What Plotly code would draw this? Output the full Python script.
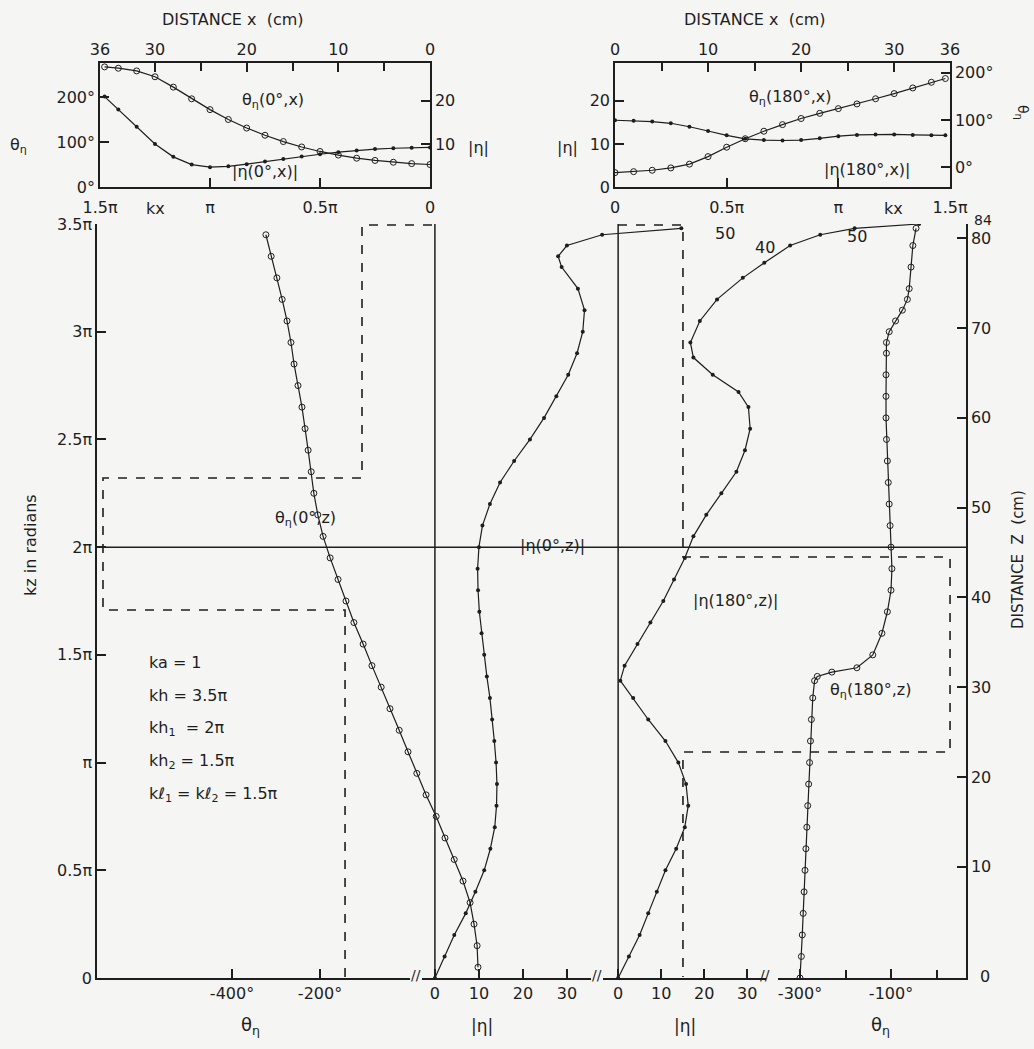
import plotly.graph_objects as go

W, H = 1034, 1049

# ---------------- values ----------------
# upper left inset: phi = 0 deg, along the arm (x in cm)
x_cm_0 = [35.5, 34, 32, 30, 28, 26, 24, 22, 20, 18, 16, 14, 12, 10, 8, 6, 4, 2, 0]
theta_0_x = [267, 264, 258, 245, 222, 196, 172, 150, 131, 115, 101, 89, 79, 71, 64, 59, 55, 52, 50]
eta_0_x = [21, 18, 14, 10, 7, 5.2, 4.6, 4.8, 5.3, 5.9, 6.5, 7.1, 7.6, 8.1, 8.5, 8.8, 9.0, 9.1, 9.2]

# upper right inset: phi = 180 deg
x_cm_180 = [0, 2, 4, 6, 8, 10, 12, 14, 16, 18, 20, 22, 24, 26, 28, 30, 32, 34, 35.5]
eta_180_x = [15.5, 15.4, 15.2, 14.8, 14.0, 13.0, 12.0, 11.2, 10.9, 10.8, 10.9, 11.3, 11.8,
             12.1, 12.2, 12.2, 12.1, 12.0, 12.0]
theta_180_x = [-12, -10, -7, -2, 6, 22, 42, 60, 76, 90, 103, 114, 124, 134, 145, 156, 168, 180, 188]

# main panel, kz in units of pi
kz_theta_0 = [0.05, 0.15, 0.25, 0.35, 0.45, 0.55, 0.65, 0.75, 0.85, 0.95, 1.05, 1.15, 1.25,
              1.35, 1.45, 1.55, 1.65, 1.75, 1.85, 1.95, 2.05, 2.15, 2.25, 2.35, 2.45, 2.55,
              2.65, 2.75, 2.85, 2.95, 3.05, 3.15, 3.25, 3.35, 3.45]
theta_0_z = [159, 157, 150, 141, 125, 105, 84, 64, 41, 20, 0, -20, -41, -61, -82, -102, -123,
             -141, -159, -177, -193, -205, -214, -220, -227, -234, -241, -250, -259, -266,
             -275, -286, -298, -311, -323]

kz_eta_0 = [0, 0.1, 0.2, 0.3, 0.4, 0.5, 0.6, 0.7, 0.8, 0.9, 1.0, 1.1, 1.2, 1.3, 1.4, 1.5, 1.6,
            1.7, 1.8, 1.9, 2.0, 2.1, 2.2, 2.3, 2.4, 2.5, 2.6, 2.7, 2.8, 2.9, 3.0, 3.1, 3.2,
            3.3, 3.35, 3.4, 3.45, 3.48]
eta_0_z = [0, 2.2, 4.4, 7, 9.2, 11.2, 12.6, 13.6, 14.0, 14.1, 13.9, 13.5, 13.0, 12.5, 11.8,
           11.2, 10.6, 10.1, 9.8, 9.7, 10.0, 10.8, 12.5, 14.8, 18, 21.6, 24.8, 27.6, 30.3,
           32.3, 33.6, 34, 32.5, 28.8, 28, 30, 38, 56]

kz_eta_180 = [0, 0.1, 0.2, 0.3, 0.4, 0.5, 0.6, 0.7, 0.8, 0.9, 1.0, 1.1, 1.2, 1.3, 1.38, 1.45,
              1.55, 1.65, 1.75, 1.85, 1.95, 2.05, 2.15, 2.25, 2.35, 2.45, 2.55, 2.65, 2.72,
              2.8, 2.88, 2.95, 3.05, 3.15, 3.25, 3.32, 3.4, 3.45, 3.48, 3.5]
eta_180_z = [0, 2.5, 5, 7, 9, 11, 13.5, 15.5, 16.3, 15.8, 14, 11, 7, 3.5, 0.5, 1.5, 4.5, 7.5,
             10.5, 13, 15.5, 17.5, 20.5, 24, 27.5, 29.5, 30.7, 30.3, 28, 22, 17.5, 16.8, 19,
             23, 29, 34, 40, 47, 55, 70]

kz_theta_180 = [0, 0.1, 0.2, 0.3, 0.4, 0.5, 0.6, 0.7, 0.8, 0.9, 1.0, 1.1, 1.2, 1.3, 1.38, 1.4,
                1.42, 1.44, 1.5, 1.6, 1.7, 1.8, 1.9, 2.0, 2.1, 2.2, 2.3, 2.4, 2.5, 2.6, 2.7,
                2.8, 2.9, 2.95, 3.0, 3.05, 3.1, 3.15, 3.2, 3.3, 3.4, 3.48]
theta_180_z = [-300, -297, -295, -293, -291, -289, -287, -285, -283, -281, -279, -277, -275,
               -272, -268, -262, -230, -175, -140, -120, -108, -100, -98, -100, -102, -104,
               -106, -108, -110, -111, -111, -111, -110, -110, -104, -90, -75, -64, -60, -56,
               -52, -45]

kz_ticks = [0, 0.5, 1, 1.5, 2, 2.5, 3, 3.5]
kz_labels = ["0", "0.5π", "π", "1.5π", "2π", "2.5π", "3π", "3.5π"]
z_ticks = [10, 20, 30, 40, 50, 60, 70, 80]
kx_ticks = [0, 0.5, 1, 1.5]
kx_labels = ["0", "0.5π", "π", "1.5π"]
cm_ticks = [0, 10, 20, 30, 36]
cm_minor = [5, 15, 25]

INK = "#1e1e1e"
BG = "#f5f5f3"
FONT = "DejaVu Sans"


def px(x):
    return x / W


def py(y):
    return 1 - y / H


fig = go.Figure()

circ = dict(symbol="circle-open", size=6, color=INK, line=dict(width=1, color=INK))
dot = dict(symbol="circle", size=4, color=INK)
ln = dict(color=INK, width=1.2)

# main panel curves
fig.add_trace(go.Scatter(x=theta_0_z, y=kz_theta_0, xaxis="x", yaxis="y",
                         mode="lines+markers", marker=circ, line=ln))
fig.add_trace(go.Scatter(x=eta_0_z, y=kz_eta_0, xaxis="x2", yaxis="y",
                         mode="lines+markers", marker=dot, line=ln))
fig.add_trace(go.Scatter(x=eta_180_z, y=kz_eta_180, xaxis="x3", yaxis="y",
                         mode="lines+markers", marker=dot, line=ln))
fig.add_trace(go.Scatter(x=theta_180_z, y=kz_theta_180, xaxis="x4", yaxis="y",
                         mode="lines+markers", marker=circ, line=ln))
# upper left inset
fig.add_trace(go.Scatter(x=x_cm_0, y=theta_0_x, xaxis="x6", yaxis="y3",
                         mode="lines+markers", marker=circ, line=ln))
fig.add_trace(go.Scatter(x=x_cm_0, y=eta_0_x, xaxis="x6", yaxis="y4",
                         mode="lines+markers", marker=dot, line=ln))
# upper right inset
fig.add_trace(go.Scatter(x=x_cm_180, y=eta_180_x, xaxis="x8", yaxis="y5",
                         mode="lines+markers", marker=dot, line=ln))
fig.add_trace(go.Scatter(x=x_cm_180, y=theta_180_x, xaxis="x8", yaxis="y6",
                         mode="lines+markers", marker=circ, line=ln))
# empty traces so that every scale without a curve of its own is still drawn
for xa, ya in (("x", "y2"), ("x5", "y3"), ("x7", "y5")):
    fig.add_trace(go.Scatter(x=[], y=[], xaxis=xa, yaxis=ya, hoverinfo="skip"))

ax = dict(showgrid=False, zeroline=False, automargin=False, ticks="inside", ticklen=9,
          tickwidth=1.5, tickcolor=INK, linecolor=INK, linewidth=1.5,
          tickfont=dict(size=16, color=INK))
minor = dict(ticks="inside", ticklen=8, tickwidth=1.5, tickcolor=INK)

main_x = [px(97), px(966)]
main_y = [py(978), py(224)]
ins_y = [py(187), py(63)]
ins_l = [px(100), px(430)]
ins_r = [px(615), px(950)]

fig.update_layout(
    template="none",
    width=W, height=H, margin=dict(l=0, r=0, t=0, b=0, pad=0), autosize=False,
    paper_bgcolor=BG, plot_bgcolor="rgba(0,0,0,0)",
    showlegend=False, font=dict(family=FONT, color=INK, size=16),
    # main panel: four bottom scales sharing one frame
    xaxis=dict(ax, domain=main_x, anchor="y", range=[-706.8, 1268],
               tickvals=[-400, -200], ticktext=["-400°", "-200°"], showline=True),
    xaxis2=dict(ax, domain=main_x, overlaying="x", anchor="y", range=[-76.8, 120.7],
                tickvals=[0, 10, 20, 30]),
    xaxis3=dict(ax, domain=main_x, overlaying="x", anchor="y", range=[-121.2, 80.9],
                tickvals=[0, 10, 20, 30]),
    xaxis4=dict(ax, domain=main_x, overlaying="x", anchor="y", range=[-1845, 64.8],
                tickvals=[-300, -100], ticktext=["-300°", "-100°"],
                minor=dict(minor, tickvals=[-200, 0])),
    yaxis=dict(ax, domain=main_y, anchor="x", range=[0, 3.5],
               tickvals=kz_ticks, ticktext=kz_labels, showline=True),
    yaxis2=dict(ax, domain=main_y, overlaying="y", anchor="x", side="right",
                range=[-2.4, 81.6], tickvals=z_ticks, showline=True),
    # upper left inset
    xaxis5=dict(ax, domain=ins_l, anchor="y3", range=[1.5, 0], ticklabelstandoff=5,
                tickvals=kx_ticks, ticktext=kx_labels, showline=True),
    xaxis6=dict(ax, domain=ins_l, overlaying="x5", anchor="y3", side="top", range=[36, 0],
                tickvals=cm_ticks, showline=True, minor=dict(minor, tickvals=cm_minor)),
    yaxis3=dict(ax, domain=ins_y, anchor="x5", range=[0, 275.6],
                tickvals=[0, 100, 200], ticktext=["0°", "100°", "200°"], showline=True),
    yaxis4=dict(ax, domain=ins_y, overlaying="y3", anchor="x5", side="right",
                range=[0, 28.8], tickvals=[10, 20], showline=True),
    # upper right inset
    xaxis7=dict(ax, domain=ins_r, anchor="y5", range=[0, 1.5], ticklabelstandoff=5,
                tickvals=kx_ticks, ticktext=kx_labels, showline=True),
    xaxis8=dict(ax, domain=ins_r, overlaying="x7", anchor="y5", side="top", range=[0, 36],
                tickvals=cm_ticks, showline=True, minor=dict(minor, tickvals=cm_minor)),
    yaxis5=dict(ax, domain=ins_y, anchor="x7", range=[0, 28.8],
                tickvals=[0, 10, 20], showline=True),
    yaxis6=dict(ax, domain=ins_y, overlaying="y5", anchor="x7", side="right",
                range=[-42.6, 221], tickvals=[0, 100, 200],
                ticktext=["0°", "100°", "200°"], showline=True),
)

# structure outline (dashed) and reference lines
dash = dict(color=INK, width=1.6, dash="dash")
solid = dict(color=INK, width=1.5)


def path(points):
    return "M " + " L ".join(f"{px(x):.4f},{py(y):.4f}" for x, y in points)


fig.add_shape(type="path", xref="paper", yref="paper", line=dash,
              path=path([(432, 225), (362, 225), (362, 478), (103, 478), (103, 610),
                         (345, 610), (345, 977)]))
fig.add_shape(type="path", xref="paper", yref="paper", line=dash,
              path=path([(618, 225), (683, 225), (683, 557), (950, 557), (950, 752),
                         (683, 752), (683, 977)]))
fig.add_shape(type="line", xref="x2", yref="paper", x0=0, x1=0,
              y0=main_y[0], y1=main_y[1], line=solid)
fig.add_shape(type="line", xref="x3", yref="paper", x0=0, x1=0,
              y0=main_y[0], y1=main_y[1], line=solid)
fig.add_shape(type="line", xref="paper", yref="y", x0=main_x[0], x1=main_x[1],
              y0=2, y1=2, line=solid)

# axis breaks
for xb in (416, 597, 772):
    fig.add_shape(type="rect", xref="paper", yref="paper", x0=px(xb - 6), x1=px(xb + 6),
                  y0=py(981), y1=py(975), fillcolor=BG, line=dict(width=0))
    fig.add_annotation(x=px(xb), y=py(975), xref="paper", yref="paper", text="//",
                       showarrow=False, yanchor="middle", font=dict(size=14))


def note(x, y, text, size=16, angle=0, xanchor="center"):
    fig.add_annotation(x=px(x), y=py(y), xref="paper", yref="paper", text=text,
                       showarrow=False, textangle=angle, xanchor=xanchor, yanchor="middle",
                       font=dict(size=size, color=INK))


note(233, 20, "DISTANCE x  (cm)")
note(755, 20, "DISTANCE x  (cm)")
note(273, 100, "θ<sub>η</sub>(0°,x)")
note(265, 172, "|η(0°,x)|")
note(790, 98, "θ<sub>η</sub>(180°,x)")
note(867, 170, "|η(180°,x)|")
note(18, 145, "θ<sub>η</sub>")
note(478, 147, "|η|")
note(567, 147, "|η|")
note(1022, 112, "θ<sub>η</sub>", size=14, angle=90)
note(155, 209, "kx")
note(893, 209, "kx")

note(30, 545, "kz in radians", angle=-90)
note(1018, 560, "DISTANCE  Z  (cm)", size=15, angle=-90)
note(972, 220, "84", size=14, xanchor="left")
note(985, 976, "0")
note(305, 518, "θ<sub>η</sub>(0°,z)")
note(552, 545, "|η(0°,z)|")
note(735, 600, "|η(180°,z)|")
note(870, 690, "θ<sub>η</sub>(180°,z)")
note(765, 248, "40")
note(857, 236, "50")
note(725, 234, "50")
for i, t in enumerate(["ka = 1", "kh = 3.5π", "kh<sub>1</sub>  = 2π",
                       "kh<sub>2</sub> = 1.5π", "kℓ<sub>1</sub> = kℓ<sub>2</sub> = 1.5π"]):
    note(147, 662 + 33 * i, t, xanchor="left")

note(250, 1026, "θ<sub>η</sub>", size=18)
note(482, 1026, "|η|", size=17)
note(685, 1026, "|η|", size=17)
note(880, 1026, "θ<sub>η</sub>", size=18)

fig.write_html("out.html", config={"displayModeBar": False},
               post_script="document.body.style.margin='0px';")
